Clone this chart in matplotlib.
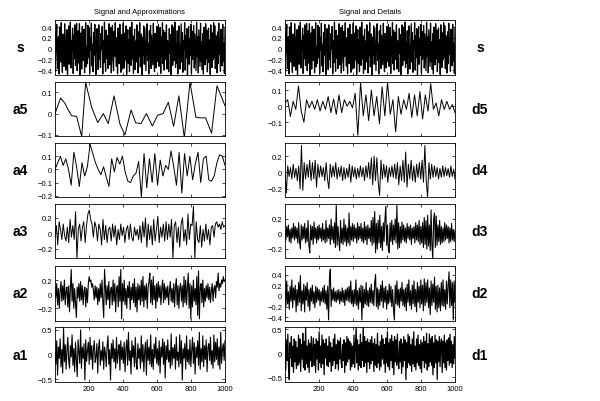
import numpy as np
import matplotlib
matplotlib.use('Agg')
import matplotlib.pyplot as plt

plt.rcParams['font.family'] = ['Liberation Sans', 'DejaVu Sans']

# signal (values in hundredths), same signal in both columns
s = [31,-42,12,45,-8,-37,22,-47,40,3,-25,48,-15,-44,27,9,-33,46,-2,-40,
     18,35,-48,6,42,-29,-11,49,-36,14,-5,38,-46,25,-19,44,-31,2,47,-41,
     -13,33,-27,46,-49,10,29,-38,41,-7,-22,36,-45,16,48,-34,4,-28,43,-17,
     39,-46,21,-3,47,-32,8,-43,30,-12,45,-24,-48,19,37,-9,-39,44,-20,5,
     -35,28,-1,41,-47,15,-26,49,-10,-42,34,-18,24,-37,11,46,-30,-4,39,-45,
     7,43,-23,-41,32,-14,48,-6,-33,20,-47,38,1,-28,45,-16,-44,26,13,-38,
     47,-11,-36,29,-21,42,-48,9,35,-27,17,-43,40,-2,-31,49,-19,23,-46,6,
     36,-39,14,-25,44,-8,-45,31,-15,48,-34,3,27,-49,21,-12,42,-29,38,-5,
     -41,16,46,-22,10,-47,33,-18,43,-37,25,-4,-30,47,-13,-43,28,8,-36,41,
     -24,12,45,-33,-7,39,-46,22,-14,48,-28,34,-40,4,30,-20,44,-38,15,2,
     -43,37,-9,26,-48,18,44,-31,-6,40,-22,49,-35,11,-27,33,-47,20,42,-14,
     -38,8,46,-25,30,-44,15,-3,48,-40,24,-17,37,-49,5,41,-29,19,-12,45,
     -46,32,-20,9,43,-36,27,-8,-41,49,-15,22,-45,35,1,-33,47,-24,13,-39,
     28,-47,40,-10,-30,46,-19,34,-43,7,38,-26,16,-48,44,-5,-35,29,-21,48,
     -16,42,-37,24,-2,-45,31,-28,47,-11,19,-42,36,-7,-32,45,-23,10,-46,39]

# approximation a5 (vertex positions and values)
a5_x = [1,34,60,79,99,128,158,181,216,252,285,314,348,383,412,448,475,506,
        538,573,604,636,667,698,729,761,794,829,858,886,921,953,1000]
a5 = [0.0,0.073,0.047,0.017,-0.01,-0.013,-0.108,0.147,0.03,-0.042,0.0,-0.047,
      0.083,-0.05,-0.1,0.017,-0.043,-0.047,0.0,-0.058,-0.008,0.0,0.053,-0.06,
      0.083,-0.113,0.147,-0.017,-0.02,-0.02,-0.092,0.13,0.037]

a4 = [0.0,0.05,0.1,0.03,0.08,0.0,-0.12,0.13,0.02,-0.13,0.05,-0.05,0.02,0.19,
      0.12,0.05,0.0,-0.04,0.02,-0.06,-0.13,0.08,-0.02,0.09,0.04,0.1,-0.02,-0.09,
      -0.1,-0.05,-0.03,0.06,-0.21,0.12,-0.14,0.08,-0.1,0.12,-0.12,0.07,-0.05,0.03,
      0.0,0.14,0.02,-0.12,0.13,-0.18,0.12,-0.05,0.1,-0.08,0.04,0.13,-0.1,0.08,
      0.1,-0.08,-0.09,-0.05,0.05,0.11,0.1,0.03]

a3 = [-5,10,-15,15,5,-8,12,-3,-10,8,-12,18,-5,10,-8,28,-32,5,12,-10,
      8,15,-12,10,25,30,18,12,-5,15,8,-10,12,5,-15,18,-8,10,-12,5,
      8,-10,12,-5,10,-15,5,-8,12,-3,8,-12,5,10,-8,12,-5,-10,8,-3,
      5,-8,10,-12,15,-5,20,-18,12,-8,10,-15,18,-10,5,22,-12,8,-5,12,
      -10,15,-8,12,-5,18,-32,10,15,-12,8,-18,12,20,-10,5,-15,25,-8,12,
      10,35,-33,15,-8,-12,10,-18,5,-10,12,-8,5,-15,8,10,-5,12,15,8,
      12,5,15,8,10]

a2 = [10,-5,15,-15,8,-20,5,18,-10,12,-8,20,-15,5,10,-18,12,-25,8,35,
      -10,15,-20,8,-12,-33,10,-5,15,-10,18,-8,12,-15,5,10,-18,8,-12,15,
      25,18,20,10,15,5,-8,12,-5,10,-15,8,-10,15,-5,20,-12,-33,35,10,
      -15,12,-8,18,-20,5,10,-15,20,-10,15,-25,8,12,-18,25,-10,35,-35,15,
      -10,20,-15,8,-20,12,-5,18,-22,10,-8,15,-12,22,-18,10,-25,15,-8,12,
      -15,20,-10,25,-18,12,-8,15,-20,10,18,30,-12,20,-15,25,-8,12,-20,15,
      -10,18,-5,12,-15,8,20,-12,15,-8,10,-5,12,-15,5,18,-10,8,-12,15,
      -18,10,22,-15,12,-20,8,15,-10,12,-18,25,-12,20,-15,10,30,-20,15,-35,
      12,-18,20,-10,8,-15,25,-30,33,-35,10,15,-12,20,-18,8,-10,12,-5,15,
      -8,10,-12,5,15,-10,8,12,-5,18,10,30,5,15,10,20,15,25,18,20]

a1 = [5,-20,28,-42,15,-8,32,-25,10,-38,55,-15,20,-30,8,35,-12,-28,18,-5,
      40,-22,12,-35,25,-10,-45,30,5,-18,50,-28,15,-8,22,-52,30,-14,8,25,
      -20,35,-10,18,-30,12,28,-16,-5,22,-38,14,30,-22,8,-12,26,-30,15,2,
      -25,18,38,-20,10,-52,22,-8,30,-15,12,-28,35,-18,5,20,-32,28,-10,15,
      -18,25,-35,10,30,-22,45,-12,8,-40,28,-6,18,-25,35,-15,-30,22,-8,12,
      -28,38,-15,20,-35,8,25,-42,30,-12,15,-20,40,-25,10,-30,22,-8,35,-18,
      12,-22,28,-38,15,-5,32,-20,25,-48,18,-10,30,-15,8,-28,42,-22,14,-8,
      20,-30,36,-12,5,-25,40,-18,28,-52,12,-8,22,-30,38,-15,10,-20,30,-25,
      8,35,-18,24,-40,15,-6,28,-22,45,-30,12,-15,38,-25,18,-10,30,-35,14,
      22,-12,35,-20,8,-28,40,-15,25,-10,32,-22,15,-30,45,-18,10,22,-12,28]

d5 = [0.02,0.04,-0.065,0.03,-0.02,0.125,-0.03,-0.1,0.04,-0.01,0.03,-0.02,0.04,
      -0.03,0.03,-0.02,0.06,-0.04,0.045,-0.05,0.07,-0.04,0.04,0.0,0.03,-0.01,
      0.08,-0.18,0.15,-0.06,0.07,-0.09,0.1,-0.06,0.06,-0.11,0.12,-0.06,0.15,
      -0.05,0.04,-0.16,0.06,-0.05,0.04,-0.02,0.08,-0.07,0.07,-0.06,0.09,-0.08,
      0.07,-0.03,0.14,-0.02,0.02,-0.06,0.04,-0.02,0.03,-0.02,0.01,-0.04]

d4 = [0,-25,8,-5,6,-8,10,-6,5,-10,8,-20,33,-22,12,-8,10,-6,15,-10,
      12,-8,15,-18,10,-6,8,-5,6,-10,12,-8,-20,10,-6,8,-5,12,-8,6,
      -5,8,-10,6,-8,5,-6,10,-12,8,-5,6,-8,5,-6,8,-5,6,-10,8,
      -6,12,-8,18,-15,20,-10,18,-12,-28,15,-8,10,-6,8,-12,6,-5,8,-6,
      10,-8,12,-15,8,-10,15,-12,25,-18,10,-8,15,-10,8,-12,10,-6,12,-8,
      15,-12,33,-10,-30,12,-8,10,-6,8,-5,6,-8,5,-6,8,-5,6,-4,5,
      -6,8,-5,4,-8]

d3 = [5,-8,10,-4,12,-10,6,-12,8,-5,14,-8,10,-6,8,-12,15,-10,-20,12,
      -8,10,-6,14,-12,8,-10,18,-15,-25,12,-8,10,-14,16,-6,8,-12,10,-8,
      12,-6,8,-10,14,-8,6,-12,18,-10,8,-6,12,-14,20,-8,10,-12,15,-18,
      38,-15,10,-8,-22,18,-12,8,-14,20,-10,12,-16,8,-12,28,-15,10,-8,14,
      -10,12,-6,8,-12,15,-8,10,-6,14,-10,8,-12,16,-8,10,-14,12,-6,8,
      -10,18,-15,22,-12,30,-25,14,-20,18,-12,25,-18,10,-22,15,-10,20,37,-15,
      12,-20,-25,15,-10,18,-14,12,-8,20,-12,38,-20,15,-18,10,-12,16,-8,12,
      -10,8,-12,14,-6,10,-8,12,-14,8,-6,10,-12,15,-8,12,-10,18,-14,10,
      -12,15,-18,22,-14,18,-20,25,-16,12,-22,32,-15,-32,20,28,-18,24,-15,12,
      -10,18,-14,10,-12,8,-10,15,-8,12,-6,10,-12,8,-10,14,-8,6,-10,5]

d2 = [12,-20,28,-15,8,-25,18,-10,30,-22,15,-8,20,-30,12,-18,25,-12,38,-28,
      10,-15,22,-30,18,-8,25,-20,12,-28,15,-10,20,-15,8,-22,18,-12,15,-8,
      12,-18,8,-10,15,-12,20,-15,10,-25,18,-45,30,50,-20,12,-8,15,-10,8,
      -12,10,-8,12,-15,8,-10,15,-12,10,-18,12,-8,15,-10,18,-12,28,-15,10,
      -20,12,-15,30,-18,10,-25,15,-12,20,-45,18,-22,12,-15,25,-18,10,-20,15,
      -12,22,-15,10,-18,25,40,-20,15,-25,12,-18,20,-10,28,-22,15,-12,18,-25,
      10,-15,22,-12,18,-20,12,-25,-45,20,-15,28,-18,12,-22,15,-10,25,-18,12,
      -20,15,-28,22,-12,30,-18,10,-25,20,-15,28,-20,12,-30,25,-12,18,-22,30,
      -15,20,-28,32,-18,25,-12,30,-22,15,-35,28,-18,22,-12,35,-25,18,-30,20,
      -22,15,-28,25,-18,30,-20,12,-25,28,-15,20,45,-22,30,-18,25,-45,28,-12]

d1 = [20,-35,28,-15,40,-30,-55,22,-10,35,-28,15,-40,30,-18,25,-32,12,-25,38,
      -20,30,-38,18,-12,42,-30,25,-35,55,-22,15,-30,28,-40,20,-15,35,-28,10,
      32,-25,18,-40,30,-12,25,-35,45,-20,15,-30,38,-22,28,-45,20,-10,30,-25,
      15,-28,35,-18,22,-38,12,-25,30,-15,40,-32,18,-22,28,-35,25,-12,32,-20,
      -30,18,-15,28,-40,22,-25,35,-18,30,-12,25,-35,20,-28,15,-22,38,-30,12,
      55,-20,28,-35,18,-25,40,-30,22,-15,58,-28,35,-20,25,-40,30,-18,22,-32,
      28,-22,35,-15,20,-38,30,-25,18,-30,42,-20,15,-35,25,-28,38,-12,30,-22,
      18,-40,32,-20,45,-28,22,-35,30,-15,38,-30,25,-45,35,-18,28,-25,40,-20,
      -32,25,-18,30,-42,20,-28,35,-15,28,-55,22,-30,40,-20,35,-25,18,-38,30,
      -22,45,-28,15,-35,30,-20,38,-25,18,-32,28,-40,22,-15,35,-30,25,-20,42,
      -35,20,-28,40,-18,30,-25,35,-45,22,-30,38,-20,28,-55,25,-18,35,-28,20,
      30,-40,25,-20,38,-30,22,-35,28,-15,32,-25,40,-20,25,-30,18,-22,35,-10]

def h(v):
    return np.array(v) / 100.0

# name, values, x positions, ylim, yticks, line width
left = [('s', h(s), None, (-0.49, 0.53), [-0.4, -0.2, 0, 0.2, 0.4], 0.9),
        ('a5', np.array(a5), a5_x, (-0.105, 0.148), [-0.1, 0, 0.1], 0.7),
        ('a4', np.array(a4), None, (-0.21, 0.2), [-0.2, -0.1, 0, 0.1], 0.7),
        ('a3', h(a3), None, (-0.32, 0.38), [-0.2, 0, 0.2], 0.7),
        ('a2', h(a2), None, (-0.38, 0.4), [-0.2, 0, 0.2], 0.8),
        ('a1', h(a1), None, (-0.56, 0.56), [-0.5, 0, 0.5], 0.8)]
right = [('s', h(s), None, (-0.49, 0.53), [-0.4, -0.2, 0, 0.2, 0.4], 0.9),
         ('d5', np.array(d5), None, (-0.185, 0.15), [-0.1, 0, 0.1], 0.7),
         ('d4', h(d4), None, (-0.3, 0.36), [-0.2, 0, 0.2], 0.7),
         ('d3', h(d3), None, (-0.32, 0.4), [-0.2, 0, 0.2], 0.8),
         ('d2', h(d2), None, (-0.47, 0.56), [-0.4, -0.2, 0, 0.2, 0.4], 0.8),
         ('d1', h(d1), None, (-0.6, 0.55), [-0.5, 0, 0.5], 0.9)]

W, H = 600, 402
fig = plt.figure(figsize=(6, 4.02), dpi=100)
fig.patch.set_facecolor('white')

rows_px = [(21, 76), (83, 137), (144, 198), (205, 259), (267, 322), (328, 383)]
cols_px = [(55, 225), (285, 455)]

for c, panels in enumerate([left, right]):
    x0, x1 = cols_px[c]
    for r, (name, vals, xs, ylim, yt, lw) in enumerate(panels):
        top, bot = rows_px[r]
        ax = fig.add_axes([x0 / W, 1 - bot / H, (x1 - x0) / W, (bot - top) / H])
        if xs is None:
            xs = np.linspace(1, 1000, len(vals))
        ax.plot(xs, vals, color='black', lw=lw)
        ax.set_xlim(1, 1000)
        ax.set_ylim(*ylim)
        ax.set_yticks(yt)
        ax.set_yticklabels(['%g' % t if t >= 0 else '\u2212%g' % -t for t in yt])
        ax.set_xticks([200, 400, 600, 800, 1000])
        ax.tick_params(direction='in', length=2, width=0.5, labelsize=5.5,
                       top=True, right=True, pad=2)
        if r < 5:
            ax.set_xticklabels([])
        for sp in ax.spines.values():
            sp.set_linewidth(0.6)
        lx = 20 if c == 0 else 480
        fig.text(lx / W, 1 - (top + bot) / 2 / H, name, fontsize=10,
                 fontweight='bold', ha='center', va='center')

fig.text(140 / W, 1 - 12 / H, 'Signal and Approximations', fontsize=5.5,
         ha='center', va='center')
fig.text(370 / W, 1 - 12 / H, 'Signal and Details', fontsize=5.5,
         ha='center', va='center')

fig.savefig('out.png', dpi=100)
